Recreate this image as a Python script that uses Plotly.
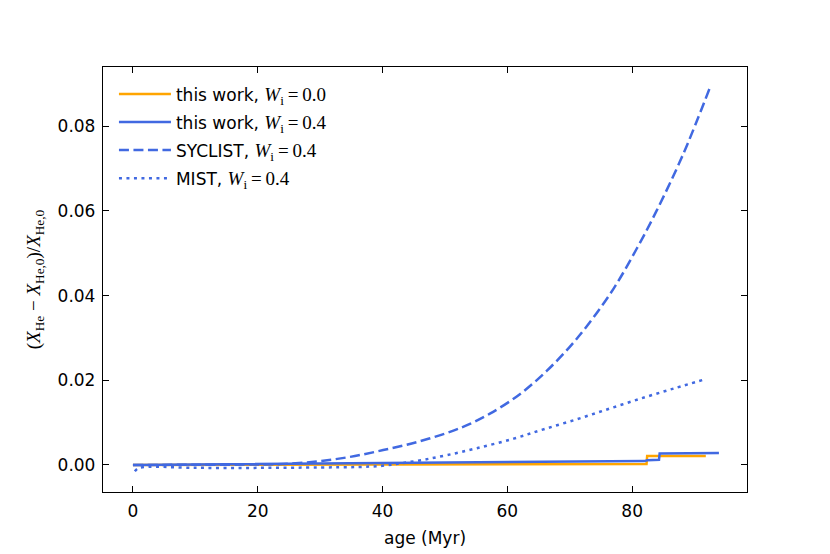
#!/usr/bin/env python3

""" Relative helium enrichment vs age: this work against SYCLIST and MIST """

import plotly.graph_objects as go

# this work, W_i = 0.0
age_w00 = [0.0, 20.0, 40.0, 60.0, 82.3, 82.4, 91.8]
dhe_w00 = [0.0, 0.00005, 0.0001, 0.00015, 0.0002, 0.0021, 0.0021]

# this work, W_i = 0.4
age_w04 = [0.0, 20.0, 40.0, 60.0, 82.0, 82.4, 84.3, 84.4, 93.9]
dhe_w04 = [0.0, 0.0002, 0.0004, 0.0006, 0.0009, 0.0011, 0.0012, 0.0027, 0.0028]

# SYCLIST, W_i = 0.4
age_syclist = [0.0, 10.0, 20.0, 24.1, 29.4, 34.8, 40.1, 45.5, 50.8, 54.0,
               57.2, 62.0, 66.3, 70.0, 72.7, 77.0, 80.7, 83.9, 88.2, 92.5]
dhe_syclist = [0.0, 0.00002, 0.0001, 0.0002, 0.0008, 0.0019, 0.0035, 0.0054, 0.0078, 0.0097,
               0.0121, 0.0167, 0.0222, 0.0279, 0.0327, 0.0416, 0.0510, 0.0600, 0.0735, 0.0893]

# MIST, W_i = 0.4
age_mist = [0.3, 1.0, 10.0, 20.0, 30.0, 36.0, 40.0, 43.0, 46.5, 50.3,
            55.0, 61.0, 66.0, 71.6, 77.0, 82.3, 87.0, 91.4]
dhe_mist = [-0.0015, -0.0007, -0.0007, -0.0007, -0.0006, -0.0005, -0.0002, 0.0004, 0.0012, 0.0023,
            0.0039, 0.0062, 0.0085, 0.0110, 0.0136, 0.0161, 0.0182, 0.0201]

x_ticks = [0, 20, 40, 60, 80]
y_ticks = [0.0, 0.02, 0.04, 0.06, 0.08]

ORANGE = "#FFA500"
BLUE = "#4169E1"
SANS = "DejaVu Sans"
SERIF = "Liberation Serif"


def legendName(label, w):
    return ("%s, <span style='font-family:%s;font-size:19px'><i>W</i><sub>i</sub>\u2009=\u2009%s</span>"
            % (label, SERIF, w))


traces = [
    go.Scatter(x=age_w00, y=dhe_w00, mode="lines", name=legendName("this work", "0.0"),
               legendgroup="a", line=dict(color=ORANGE, width=2.5)),
    go.Scatter(x=age_w04, y=dhe_w04, mode="lines", name=legendName("this work", "0.4"),
               legendgroup="b", line=dict(color=BLUE, width=2.5)),
    go.Scatter(x=age_syclist, y=dhe_syclist, mode="lines", name=legendName("SYCLIST", "0.4"),
               legendgroup="c", line=dict(color=BLUE, width=2.5, dash="10px,4.5px", shape="spline")),
    go.Scatter(x=age_mist, y=dhe_mist, mode="lines", name=legendName("MIST", "0.4"),
               legendgroup="d", line=dict(color=BLUE, width=2.5, dash="3px,4.5px", shape="spline")),
]

axisStyle = dict(
    showline=True, linecolor="black", linewidth=1.3, mirror="ticks",
    ticks="inside", ticklen=6, tickwidth=1.3, tickcolor="black",
    showgrid=False, zeroline=False, automargin=False,
    tickfont=dict(family=SANS, size=17, color="black"),
)

ytitle = ("(<i>X</i><sub>He</sub> \u2212 <i>X</i><sub>He,0</sub>)/<i>X</i><sub>He,0</sub>")

# the page body adds an 8px offset, so margins are shifted by that amount
layout = go.Layout(
    width=830, height=554,
    paper_bgcolor="white", plot_bgcolor="white",
    margin=dict(l=95, r=91, t=59, b=70),
    font=dict(family=SANS, size=17, color="black"),
    xaxis=dict(axisStyle, range=[-4.8, 98.4], tickvals=x_ticks, ticklabelstandoff=3,
               title=dict(text="age (Myr)", font=dict(family=SANS, size=17), standoff=12)),
    yaxis=dict(axisStyle, range=[-0.0064, 0.0940], tickvals=y_ticks, tickformat=".2f",
               ticklabelstandoff=3,
               title=dict(text=ytitle, font=dict(family=SERIF, size=19), standoff=11)),
    legend=dict(x=0.017, y=0.978, xanchor="left", yanchor="top",
                bgcolor="rgba(255,255,255,0)", font=dict(family=SANS, size=17),
                tracegroupgap=3, itemwidth=52),
    showlegend=True,
)

fig = go.Figure(data=traces, layout=layout)
fig.write_html("out.html")
